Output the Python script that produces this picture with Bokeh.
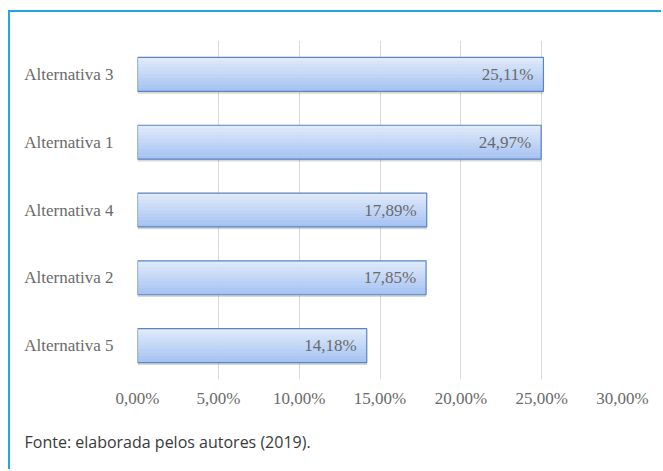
from bokeh.plotting import figure
from bokeh.models import FactorRange, FixedTicker, Title, ColumnDataSource
from bokeh.transform import dodge
from bokeh.core.properties import value
from bokeh.embed import file_html
from bokeh.resources import INLINE

categories = ["Alternativa 3", "Alternativa 1", "Alternativa 4", "Alternativa 2", "Alternativa 5"]
values = [25.11, 24.97, 17.89, 17.85, 14.18]
value_labels = ["25,11%", "24,97%", "17,89%", "17,85%", "14,18%"]
ticks = [0, 5, 10, 15, 20, 25, 30]
tick_labels = ["0,00%", "5,00%", "10,00%", "15,00%", "20,00%", "25,00%", "30,00%"]

src = ColumnDataSource(dict(cat=categories, val=values, lab=value_labels))

p = figure(width=653, height=459, output_backend="svg", toolbar_location=None,
           y_range=FactorRange(factors=list(reversed(categories)), range_padding=0),
           x_range=(0, 30),
           min_border_left=127, min_border_right=41, min_border_top=28, min_border_bottom=91)
p.styles = {"margin-left": "8px", "margin-top": "10px",
            "border-left": "2px solid #1fa8de", "border-top": "2px solid #1fa8de"}
p.outline_line_color = None
p.background_fill_color = "white"
p.border_fill_color = "white"

p.xgrid.grid_line_color = "#d9d9d9"
p.ygrid.grid_line_color = None

p.xaxis.ticker = FixedTicker(ticks=ticks)
p.xaxis.major_label_overrides = {t: l for t, l in zip(ticks, tick_labels)}
for ax in (p.xaxis[0], p.yaxis[0]):
    ax.axis_line_color = None
    ax.major_tick_line_color = None
    ax.minor_tick_line_color = None
    ax.major_label_text_font = "Liberation Serif"
    ax.major_label_text_font_size = "17px"
    ax.major_label_text_color = "#6a6a6a"
p.xaxis.major_label_standoff = 3
p.yaxis.major_label_standoff = 18

# shadow
p.hbar(y=dodge("cat", -0.035, range=p.y_range), right="val", left=0, height=0.5,
       source=src, fill_color="#7f7f7f", fill_alpha=0.3, line_color=None)

# gradient stripes
n = 10
c_top = (0xdf, 0xea, 0xfb)
c_bot = (0xa6, 0xc3, 0xf3)
for i in range(n):
    t = i / (n - 1)
    col = "#%02x%02x%02x" % tuple(int(round(a + (b - a) * t)) for a, b in zip(c_top, c_bot))
    off = 0.25 - (i + 0.5) * 0.5 / n
    p.hbar(y=dodge("cat", off, range=p.y_range), right="val", left=0, height=0.5 / n + 0.002,
           source=src, fill_color=col, line_color=None)

# outline
p.hbar(y="cat", right="val", left=0, height=0.5, source=src,
       fill_color=None, line_color="#5b84c0", line_width=1.2)

p.text(x="val", y="cat", text="lab", source=src, x_offset=-10,
       text_align="right", text_baseline="middle",
       text_font=value("Liberation Serif"), text_font_size="17px", text_color="#6a6a6a")

foot = Title(text="Fonte: elaborada pelos autores (2019).", align="left", offset=-113,
             text_font="Open Sans", text_font_size="16px", text_color="#3a3a3a",
             text_font_style="normal", standoff=37)
p.add_layout(foot, "below")

open("out.html", "w").write(file_html(p, INLINE))
